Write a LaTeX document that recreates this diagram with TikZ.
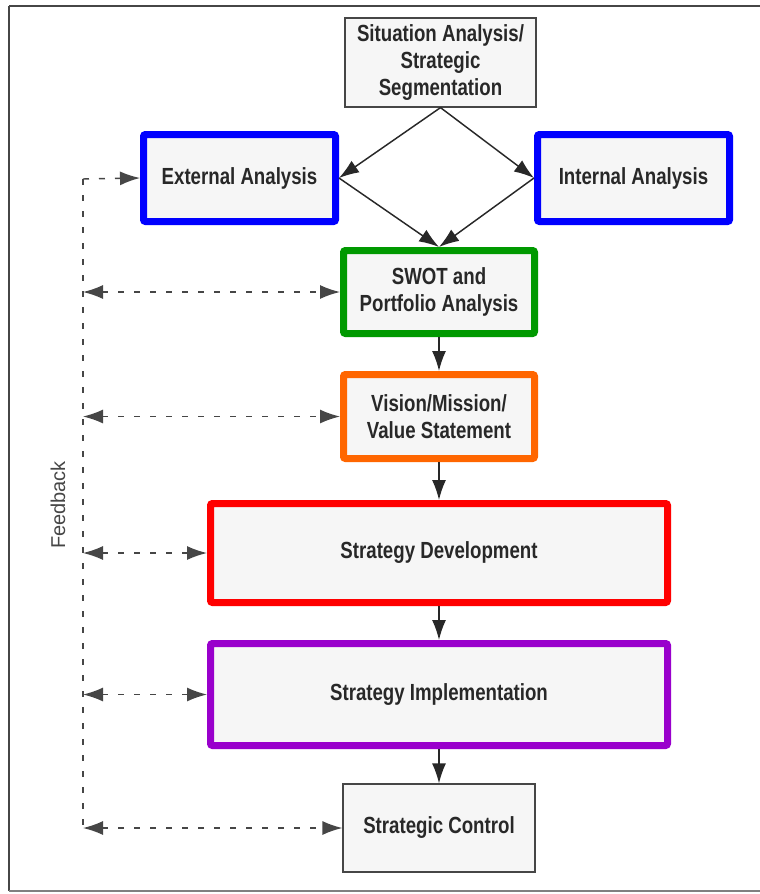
\documentclass[tikz,border=0pt]{standalone}
\usepackage{fontspec}
\setmainfont{Liberation Sans}
\newfontfamily\boxfont[FakeStretch=0.8]{Liberation Sans}
\usetikzlibrary{arrows.meta}
\definecolor{inkgray}{RGB}{40,40,40}
\definecolor{linegray}{RGB}{70,70,70}
\definecolor{paper}{RGB}{246,246,246}
\definecolor{boxblue}{RGB}{0,0,255}
\definecolor{boxgreen}{RGB}{0,153,0}
\definecolor{boxorange}{RGB}{255,102,0}
\definecolor{boxred}{RGB}{255,0,0}
\definecolor{boxpurple}{RGB}{153,0,204}
\tikzset{
  label text/.style={font=\boxfont\bfseries\fontsize{17.5}{20}\selectfont, text=inkgray, align=center},
  plainbox/.style={label text, draw=linegray, line width=0.9pt, fill=paper, inner sep=0pt},
  colorbox/.style={label text, draw=#1, line width=5.25pt, rounded corners=1.5pt, fill=paper, inner sep=0pt},
  fbtip/.tip={Latex[length=15pt,width=10.5pt]},
  flow/.style={draw=inkgray, line width=1.1pt, -{fbtip}},
  fbline/.style={draw=linegray, line width=1.1pt, dash pattern=on 4.5pt off 7.5pt}
}
\begin{document}
\begin{tikzpicture}[x=0.75pt,y=0.75pt,yscale=-1,xscale=1]
    \useasboundingbox (0,0) rectangle (760,894);
    %Frame lines
    \draw [linegray, line width=1.5pt] (9,6) -- (760,6) ;
    \draw [linegray, line width=1.5pt] (9,6) -- (9,891) ;
    \draw [gray, line width=2.2pt] (9,891) -- (760,891) ;

    % Text Node
    \node [plainbox, minimum width=143.25pt, minimum height=66.75pt] (situation) at (440.5,62.5) {Situation Analysis/\\Strategic\\Segmentation};
    % Text Node
    \node [colorbox=boxblue, minimum width=144pt, minimum height=65.25pt] (external) at (239.5,178) {External Analysis};
    % Text Node
    \node [colorbox=boxblue, minimum width=144pt, minimum height=65.25pt] (internal) at (633.5,178) {Internal Analysis};
    % Text Node
    \node [colorbox=boxgreen, minimum width=143.25pt, minimum height=62.25pt] (swot) at (439,292) {SWOT and\\Portfolio Analysis};
    % Text Node
    \node [colorbox=boxorange, minimum width=143.25pt, minimum height=63pt] (vision) at (439,416.5) {Vision/Mission/\\Value Statement};
    % Text Node
    \node [colorbox=boxred, minimum width=342.75pt, minimum height=74.25pt] (development) at (439,553) {Strategy Development};
    % Text Node
    \node [colorbox=boxpurple, minimum width=342.75pt, minimum height=76.5pt] (implementation) at (439,694.5) {Strategy Implementation};
    % Text Node
    \node [plainbox, minimum width=144pt, minimum height=66pt] (control) at (439,828) {Strategic Control};
    % Text Node
    \node [rotate=90, text=linegray, font=\fontsize{15}{17}\selectfont, inner sep=0pt] (feedback) at (58,505) {Feedback};

    %Straight Lines
    \draw [flow] (situation.south) -- (external.east) ;
    \draw [flow] (situation.south) -- (internal.west) ;
    \draw [flow] (external.east) -- (swot.north) ;
    \draw [flow] (internal.west) -- (swot.north) ;
    \draw [flow] (swot) -- (vision) ;
    \draw [flow] (vision) -- (development) ;
    \draw [flow] (development) -- (implementation) ;
    \draw [flow] (implementation) -- (control) ;

    %Feedback lines
    \coordinate (fbtop) at (83,179) ;
    \coordinate (fbbottom) at (83,828) ;
    \draw [fbline] (fbtop) -- (fbbottom) ;
    \draw [fbline, -{fbtip}] (fbtop) -- (external.west) ;
    \draw [fbline, {fbtip}-{fbtip}] (fbtop |- swot) -- (swot.west) ;
    \draw [fbline, {fbtip}-{fbtip}] (fbtop |- vision) -- (vision.west) ;
    \draw [fbline, {fbtip}-{fbtip}] (fbtop |- development) -- (development.west) ;
    \draw [fbline, {fbtip}-{fbtip}] (fbtop |- implementation) -- (implementation.west) ;
    \draw [fbline, {fbtip}-{fbtip}] (fbbottom) -- (control.west) ;
\end{tikzpicture}
\end{document}
